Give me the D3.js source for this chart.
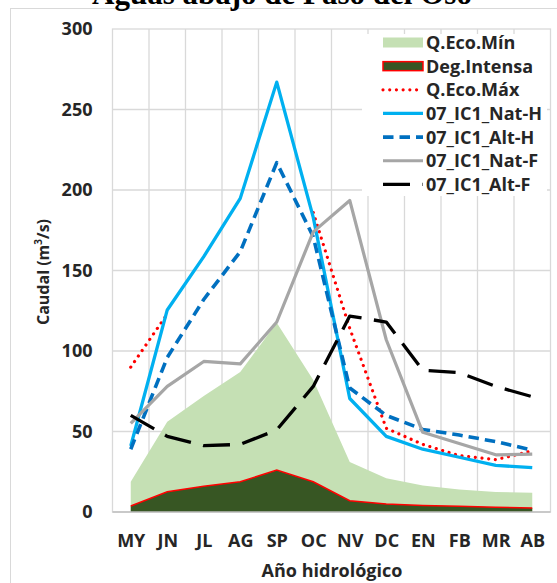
<!DOCTYPE html>
<html><head><meta charset="utf-8">
<script src="https://cdn.jsdelivr.net/npm/d3@7"></script>
<style>
body{margin:0;background:#fff;}
svg{display:block;}
text{font-family:"Open Sans",Lato,sans-serif;font-weight:700;fill:#262626;}
</style></head>
<body><svg id="c" width="557" height="583"></svg>
<script>
const categories = ["MY","JN","JL","AG","SP","OC","NV","DC","EN","FB","MR","AB"];
const qEcoMin   = [18.8,56,72,87,117.5,82,31,21,16.5,14,12.5,12];
const degIntensa= [3.7,12.6,16,18.8,26,18.8,7,5,4,3.5,3,2.5];
const qEcoMax   = [90,123,null,null,null,186,114,52,42,35,32.5,38];
const natH      = [41,125.5,158.6,194.8,267,183,70.5,47,39,34,29,27.5];
const altH      = [39,96,132,161.7,217,171,77,60,51.3,47.8,43.7,38.5];
const natF      = [55,78,93.5,92,118,174,193.5,107,49.5,42.5,35.5,36];
const altF      = [60,47,41.2,42,51,78,121.7,118,88,86.6,78,71.6];
const yTicks    = [0,50,100,150,200,250,300];
const legendNames = ["Q.Eco.Mín","Deg.Intensa","Q.Eco.Máx","07_IC1_Nat-H","07_IC1_Alt-H","07_IC1_Nat-F","07_IC1_Alt-F"];

const svg = d3.select("#c");
const L=112.5, R=550.5, T=29, B=512;
const xb = d3.scaleBand().domain(categories).range([L,R]).padding(0);
const xp = d3.scalePoint().domain(categories).range([L+xb.bandwidth()/2, R-xb.bandwidth()/2]);
const y = d3.scaleLinear().domain([0,300]).range([B,T]);

// outer chart border
svg.append("rect").attr("x",10.5).attr("y",8.5).attr("width",600).attr("height",600)
  .attr("fill","none").attr("stroke","#D9D9D9").attr("stroke-width",1);

// title (cut off at top, as in the reference)
svg.append("text").attr("x",282).attr("y",4).attr("text-anchor","middle")
  .style("font-family","'Liberation Serif','Times New Roman',serif").style("font-size","31px")
  .style("fill","#000").text("Aguas abajo de Paso del Oso");

// gridlines
const g = svg.append("g");
g.selectAll("line.h").data(yTicks.filter(d=>d>0&&d<300)).enter().append("line")
  .attr("x1",L).attr("x2",R).attr("y1",d=>y(d)).attr("y2",d=>y(d))
  .attr("stroke","#D9D9D9").attr("stroke-width",1.3);
g.selectAll("line.v").data(categories.slice(1)).enter().append("line")
  .attr("x1",d=>xb(d)).attr("x2",d=>xb(d)).attr("y1",T).attr("y2",B)
  .attr("stroke","#D9D9D9").attr("stroke-width",1.3);
svg.append("rect").attr("x",L).attr("y",T).attr("width",R-L).attr("height",B-T)
  .attr("fill","none").attr("stroke","#D9D9D9").attr("stroke-width",1.3);

const idx = categories.map((c,i)=>i);
// areas
const area = arr => d3.area().x(i=>xp(categories[i])).y0(y(0)).y1(i=>y(arr[i]))(idx);
svg.append("path").attr("d",area(qEcoMin)).attr("fill","#C5E0B4");
svg.append("path").attr("d",area(degIntensa)).attr("fill","#375623");
svg.append("path").attr("d",d3.line().x(i=>xp(categories[i])).y(i=>y(degIntensa[i]))(idx))
  .attr("fill","none").attr("stroke","#FF0000").attr("stroke-width",1.5);
// axis baseline
svg.append("line").attr("x1",L).attr("x2",R).attr("y1",B).attr("y2",B).attr("stroke","#BFBFBF").attr("stroke-width",1.3);

const lineGen = arr => d3.line().defined(i=>arr[i]!=null).x(i=>xp(categories[i])).y(i=>y(arr[i]))(idx);
const styles = [
  {data:qEcoMax, color:"#FF0000", w:3.2, dash:"0.01,6.7", cap:"round"},
  {data:natH, color:"#00B0F0", w:3.3, dash:null, cap:"butt"},
  {data:altH, color:"#0070C0", w:3.6, dash:"10.5,6", cap:"butt"},
  {data:natF, color:"#A6A6A6", w:3.2, dash:null, cap:"butt"},
  {data:altF, color:"#000000", w:3.3, dash:"27,12.5", cap:"butt"}
];
styles.forEach(s=>{
  svg.append("path").attr("d",lineGen(s.data)).attr("fill","none")
    .attr("stroke",s.color).attr("stroke-width",s.w)
    .attr("stroke-dasharray",s.dash).attr("stroke-linecap",s.cap).attr("stroke-linejoin","round");
});

// legend
const lg = svg.append("g");
lg.append("rect").attr("x",362).attr("y",34).attr("width",185).attr("height",162).attr("fill","#fff");
const ly0=42.5, ldy=23.65, sx0=383, sx1=423;
legendNames.forEach((n,i)=>{
  const yy = ly0+i*ldy;
  if(i===0){
    lg.append("rect").attr("x",sx0).attr("y",yy-5).attr("width",sx1-sx0).attr("height",10).attr("fill","#C5E0B4");
  } else if(i===1){
    lg.append("rect").attr("x",sx0).attr("y",yy-4.5).attr("width",sx1-sx0).attr("height",9)
      .attr("fill","#375623").attr("stroke","#FF0000").attr("stroke-width",1.5);
  } else {
    const s = styles[i-2];
    lg.append("line").attr("x1",sx0).attr("x2",sx1).attr("y1",yy).attr("y2",yy)
      .attr("stroke",s.color).attr("stroke-width",s.w).attr("stroke-dasharray",s.dash).attr("stroke-linecap",s.cap);
  }
  lg.append("text").attr("x",426).attr("y",yy).attr("dy","0.36em").style("font-size","18px").text(n);
});

// y axis
const ya = svg.append("g").attr("transform",`translate(${L},0)`)
  .call(d3.axisLeft(y).tickValues(yTicks).tickSize(0).tickPadding(20));
ya.select(".domain").remove();
ya.selectAll("text").style("font-size","18px").style("font-family","'Open Sans',sans-serif").attr("fill","#262626");

// x axis
const xa = svg.append("g").attr("transform",`translate(0,${B})`)
  .call(d3.axisBottom(xp).tickSize(0).tickPadding(22));
xa.select(".domain").remove();
xa.selectAll("text").style("font-size","18px").style("font-family","'Open Sans',sans-serif").attr("fill","#262626");

// axis titles
svg.append("text").attr("x",332).attr("y",577).attr("text-anchor","middle").style("font-size","18px").text("Año hidrológico");
svg.append("text").attr("transform","translate(49,272) rotate(-90)").attr("text-anchor","middle")
  .style("font-size","16px").html('Caudal (m<tspan baseline-shift="super" font-size="10px">3</tspan>/s)');
</script></body></html>
